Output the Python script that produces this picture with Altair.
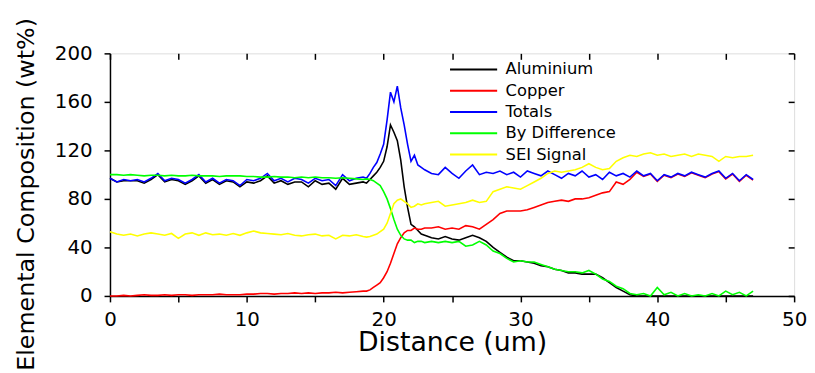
import altair as alt
import pandas as pd

# Sample positions along the line scan (um)
distance = [
    0.0, 0.5, 1.0, 1.5, 2.0, 2.5, 3.0, 3.5, 4.0, 4.5,
    5.0, 5.5, 6.0, 6.5, 7.0, 7.5, 8.0, 8.5, 9.0, 9.5,
    10.0, 10.5, 11.0, 11.5, 12.0, 12.5, 13.0, 13.5, 14.0, 14.5,
    15.0, 15.5, 16.0, 16.5, 17.0, 17.5, 18.0, 18.5,
    18.75, 19.0, 19.25, 19.5, 19.75, 20.0, 20.25, 20.5, 20.75, 21.0,
    21.25, 21.5, 21.75, 22.0, 22.25, 22.5, 22.75, 23.0,
    23.5, 24.0, 24.5, 25.0, 25.5, 26.0, 26.5, 27.0, 27.5, 28.0,
    28.5, 29.0, 29.5, 30.0, 30.5, 31.0, 31.5, 32.0, 32.5, 33.0,
    33.5, 34.0, 34.5, 35.0, 35.5, 36.0, 36.5, 37.0, 37.5, 38.0,
    38.5, 39.0, 39.5, 40.0, 40.5, 41.0, 41.5, 42.0, 42.5, 43.0,
    43.5, 44.0, 44.5, 45.0, 45.5, 46.0, 46.5, 47.0,
]

aluminium = [
    97, 94, 95, 95, 95, 93, 96, 100, 94, 96,
    95, 92, 95, 99, 93, 96, 92, 95, 94, 90,
    94, 93, 95, 99, 93, 95, 92, 94, 94, 90,
    95, 92, 93, 88, 97, 92, 93, 94,
    93, 96, 99, 102, 106, 111, 123, 141, 135, 128,
    112, 90, 73, 59, 57, 54, 51, 50,
    48, 47, 49, 47, 46, 48, 50, 48, 45, 40,
    36, 32, 29, 29, 28, 27, 25, 24, 22, 21,
    19, 19, 18, 18, 18, 15, 11, 7, 4, 1,
    0, 0, 0, 0, 0, 0, 0, 0, 0, 0,
    0, 0, 0, 0, 0, 0, 0, 0,
]

copper = [
    0, 0, 0.5, 0, 0.5, 1, 0.5, 0.5, 1, 0.5,
    1, 1, 0.5, 1, 1, 1, 1.5, 1, 1, 1,
    1.5, 1.5, 2, 2, 1.5, 2, 2, 2.5, 2, 2.5,
    2, 2.5, 2.5, 3, 2.5, 3, 3.5, 4,
    4, 5, 7, 9, 11, 15, 20, 27, 35, 43,
    48, 52, 54, 54, 56, 55, 55, 56,
    56, 57, 55, 56, 55, 58, 57, 55, 59, 63,
    68, 70, 70, 70, 71, 73, 75, 77, 78, 79,
    78, 80, 80, 81, 83, 85, 86, 94, 92, 96,
    102, 98.5, 100.5, 94.5, 99.5, 97.5, 100.5, 98.5, 101.5, 99.5,
    97.5, 100.5, 102.5, 96.5, 100.5, 94.5, 99.5, 95.5,
]

totals = [
    97, 94, 96, 95, 96, 94, 97, 101, 95, 97,
    96, 93, 96, 100, 94, 97, 93, 96, 95, 91,
    96, 95, 97, 101, 95, 97, 94, 97, 96, 93,
    97, 95, 96, 91, 100, 95, 97, 98,
    97, 101, 106, 110, 117, 125, 145, 168, 160, 173,
    155, 141, 125, 111, 116, 108, 106, 104,
    101, 100, 106, 101, 97, 103, 108, 100, 102, 101,
    103, 100, 102, 98, 103, 101, 99, 103, 100, 97,
    101, 99, 103, 98, 100, 96, 102, 99, 101, 98,
    103, 99, 101, 95, 100, 98, 101, 99, 102, 100,
    98, 101, 103, 97, 101, 95, 100, 96,
]

by_difference = [
    100, 100, 99.5, 100, 99.5, 99, 99.5, 99.5, 99, 99.5,
    99, 99, 99.5, 99, 99, 99, 98.5, 99, 99, 99,
    98.5, 98.5, 98, 98, 98.5, 98, 98, 97.5, 98, 97.5,
    98, 97.5, 97.5, 97, 97.5, 97, 96.5, 96,
    96.5, 96, 95, 93, 91, 86, 80, 72, 63, 55,
    50, 47, 46, 46, 44, 45, 45, 44,
    45, 44, 45, 44, 45, 41, 42, 45, 42, 37,
    35, 31, 28, 29, 28, 28, 26, 24, 22, 21,
    20, 20, 19, 21, 18, 14, 12, 8, 6, 2,
    1, 2, 0, 7, 1, 3, 0, 2, 0, 1,
    0, 2, 0, 4, 1, 3, 0, 4,
]

sei_signal = [
    53, 51, 50, 51, 49.5, 51, 52, 51, 50, 51.5,
    47.5, 51, 52, 50, 52, 50.5, 51, 50, 51.5, 50,
    52, 53.5, 52, 51.5, 51, 50.5, 51.5, 50, 49.5, 50.5,
    51, 49.5, 50, 47, 50, 49.5, 50.5, 49,
    48.5, 49, 50, 51, 53, 55, 60, 68, 76, 79,
    80, 78, 76, 73, 74, 76, 75, 76,
    77, 78, 74, 75, 76, 77, 79, 77, 78, 86,
    88, 90, 89, 88, 91, 94, 97, 101, 103, 102,
    103, 104, 106, 109, 106, 104, 105, 111, 114, 116,
    115, 117, 118, 116, 117, 115, 116, 117, 115, 117,
    116, 115, 111, 115, 114, 115, 115, 116,
]

series_names = ["Aluminium", "Copper", "Totals", "By Difference", "SEI Signal"]
series_colors = ["#000000", "#ff0000", "#0000ff", "#00ff00", "#ffff00"]
series_values = [aluminium, copper, totals, by_difference, sei_signal]

x_ticks = [0, 5, 10, 15, 20, 25, 30, 35, 40, 45, 50]
y_ticks = [0, 40, 80, 120, 160, 200]

rows = []
for name, vals in zip(series_names, series_values):
    assert len(vals) == len(distance), name
    for d, v in zip(distance, vals):
        rows.append({"Distance": d, "Value": v, "Series": name})
df = pd.DataFrame(rows)

FONT = "DejaVu Sans"
x_scale = alt.Scale(domain=[0, 50], nice=False, zero=False)
y_scale = alt.Scale(domain=[0, 200], nice=False)
color_scale = alt.Scale(domain=series_names, range=series_colors)

legend = alt.Legend(
    title=None, orient="none", legendX=341, legendY=8,
    symbolType="M-3.4,0H3.4", symbolSize=196, symbolStrokeWidth=2,
    symbolOffset=18, labelOffset=24, labelFont=FONT, labelFontSize=16.5,
    labelColor="black", rowPadding=4.5, padding=0,
)

x_bottom = alt.Axis(
    values=x_ticks, labelExpr="datum.value % 10 === 0 ? datum.label : ''",
    title="Distance (um)", titleFont=FONT, titleFontSize=27, titleFontWeight="normal",
    titleColor="black", titleY=55, titleBaseline="alphabetic",
    labelFont=FONT, labelFontSize=20, labelColor="black", labelPadding=8,
    labelFlush=False, labelOverlap=False, tickSize=6, tickColor="black", tickWidth=1.5,
    domainColor="black", domainWidth=1.5, grid=False,
)
y_left = alt.Axis(
    values=y_ticks, title="Elemental Composition (wt%)", titleFont=FONT,
    titleFontSize=24, titleFontWeight="normal", titleColor="black",
    titleX=-84, titleY=142, titleAngle=-90, titleAlign="center", titleBaseline="middle",
    labelFont=FONT, labelFontSize=20, labelColor="black", labelPadding=12,
    labelFlush=False, labelOverlap=False, tickSize=6, tickColor="black", tickWidth=1.5,
    domainColor="black", domainWidth=1.5, grid=False,
)
x_top = alt.Axis(
    orient="top", values=x_ticks, labels=False, domain=False, title=None,
    tickSize=6, offset=-6, tickColor="black", tickWidth=1.5, grid=False,
)
y_right = alt.Axis(
    orient="right", values=y_ticks, labels=False, domain=False, title=None,
    tickSize=6, offset=-6, tickColor="black", tickWidth=1.5, grid=False,
)

layers = []
for i, name in enumerate(series_names):
    layers.append(
        alt.Chart(df)
        .transform_filter(alt.datum.Series == name)
        .mark_line(strokeWidth=1.6)
        .encode(
            x=alt.X("Distance:Q", scale=x_scale, axis=x_bottom if i == 0 else None),
            y=alt.Y("Value:Q", scale=y_scale, axis=y_left if i == 0 else None),
            color=alt.Color("Series:N", scale=color_scale, legend=legend),
        )
    )

frame_ticks = alt.Chart(df).mark_point(opacity=0).encode(
    x=alt.X("Distance:Q", scale=x_scale, axis=x_top),
    y=alt.Y("Value:Q", scale=y_scale, axis=y_right),
)

chart = (
    alt.layer(*layers, frame_ticks)
    .resolve_axis(x="independent", y="independent")
    .properties(
        width=691, height=245,
        autosize=alt.AutoSizeParams(type="none"),
        padding={"left": 103, "top": 44, "right": 13, "bottom": 76},
    )
    .configure_view(stroke="black", strokeWidth=1.5)
    .configure(background="white")
)

chart.save("out.html", embed_options={"renderer": "svg", "actions": False})
